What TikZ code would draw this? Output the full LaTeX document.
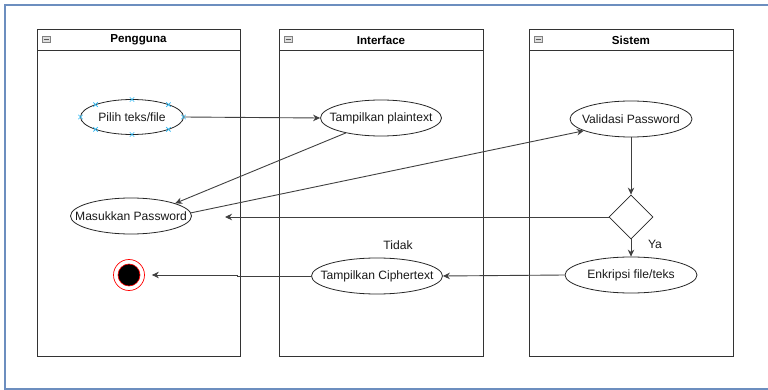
\documentclass[tikz,border=0pt]{standalone}
\usepackage{fontspec}
\setmainfont{Liberation Sans}
\usetikzlibrary{shapes.geometric,arrows.meta}
\definecolor{frameblue}{RGB}{108,142,191}
\definecolor{handleblue}{RGB}{41,182,242}
\newcommand{\actlabel}[1]{\makebox[0pt]{#1}}

\begin{document}
\begin{tikzpicture}[x=1pt,y=-1pt,
        lane/.style={draw=black!80,line width=0.9pt},
        act/.style={ellipse,draw=black!85,line width=0.8pt,inner sep=0pt,text=black!90,
            font=\fontsize{12.1}{13}\selectfont},
        lbl/.style={text=black!90,font=\fontsize{12.1}{13}\selectfont},
        conn/.style={draw=black!75,line width=0.9pt,-{Stealth[length=7pt,width=6.5pt]}},
        handle/.style={draw=handleblue,line width=0.7pt}]
    \useasboundingbox (0,0) rectangle (768,390);
    %% outer frame (open to the right)
    \draw[frameblue,line width=1.3pt] (768,5) -- (5,5) -- (5,389) -- (768,389);
    %% swimlanes
    \foreach \l/\r/\t in {37/240/Pengguna,279/483/Interface,529/733/Sistem}{
        \draw[lane] (\l,29) rectangle (\r,356);
        \draw[lane] (\l,50) -- (\r,50);
        \node[text=black,font=\bfseries\fontsize{11.6}{13}\selectfont] (head\t) at ({(\l+\r)/2},40) {\t};
        \draw[gray,fill=gray!25,line width=0.5pt] (\l+5,36) rectangle (\l+13,42);
        \draw[gray!70!black,line width=0.6pt] (\l+6.5,39) -- (\l+11.5,39);
    }
    %% activities
    \node[act,minimum width=103pt,minimum height=35pt] (pilih) at (132,117) {\actlabel{Pilih teks/file}};
    \node[act,minimum width=121pt,minimum height=36pt] (plain) at (381,118) {\actlabel{Tampilkan plaintext}};
    \node[act,minimum width=121pt,minimum height=36pt] (masuk) at (131,216) {\actlabel{Masukkan Password}};
    \node[act,minimum width=122pt,minimum height=36pt] (valid) at (631,119) {\actlabel{Validasi Password}};
    \node[diamond,draw=black!85,line width=0.8pt,inner sep=0pt,minimum size=44pt] (dec) at (631,217) {};
    \node[act,minimum width=132pt,minimum height=36pt] (enk) at (631,275) {\actlabel{Enkripsi file/teks}};
    \node[act,minimum width=131pt,minimum height=36pt] (cipher) at (377,276) {\actlabel{Tampilkan Ciphertext}};
    %% end state
    \node[circle,draw=red,line width=0.7pt,minimum size=31pt,inner sep=0pt] (akhir) at (129,275) {};
    \fill[black,draw=red,line width=0.6pt] (akhir.center) circle (11pt);
    \node[lbl] (ya) at (655,244) {Ya};
    \node[lbl] (tidak) at (398,245) {Tidak};
    %% selection handles
    \foreach \a in {0,45,...,315}{
        \path ({132+51.5*cos(\a)},{117+17.5*sin(\a)}) coordinate (h);
        \draw[handle] (h) +(-2.2,-2.2) -- +(2.2,2.2) (h) +(-2.2,2.2) -- +(2.2,-2.2);
    }
    %% flow
    \coordinate (masukR) at (225,217);
    \draw[conn] (pilih.east) -- (plain.west);
    \draw[conn] (plain.203) -- (masuk.16);
    \draw[conn] (masuk.3) -- (valid.194);
    \draw[conn] (valid.south) -- (dec.north);
    \draw[conn] (dec.west) -- (masukR);
    \draw[conn] (dec.south) -- (enk.north);
    \draw[conn] (enk.west) -- (cipher.east);
    \draw[conn,shorten >=7pt] (cipher.west) -- (237,276) |- (akhir.east);
\end{tikzpicture}
\end{document}
